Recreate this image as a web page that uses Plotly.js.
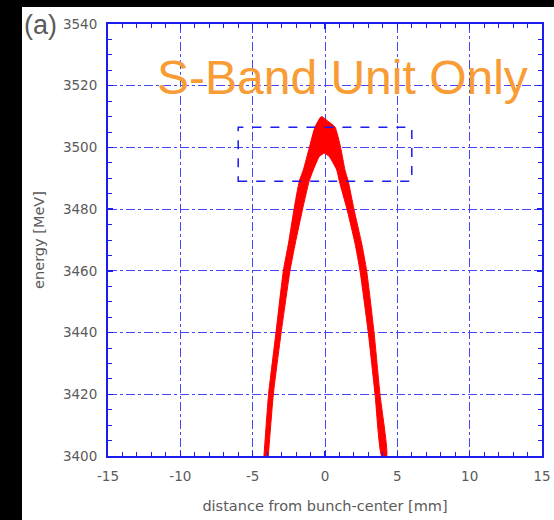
<!DOCTYPE html>
<html>
<head>
<meta charset="utf-8">
<script src="https://cdn.plot.ly/plotly-3.0.1.min.js"></script>
<style>
  html, body { margin: 0; padding: 0; background: #000; width: 554px; height: 520px; overflow: hidden; }
  #chart { position: absolute; left: 22px; top: 7px; width: 532px; height: 513px; background: #fff; }
</style>
</head>
<body>
<div id="chart"></div>
<script>
// Outer edge of the red longitudinal phase-space band (mm, MeV), left to right
const outerX = [-4.22, -3.90, -3.39, -2.88, -2.52, -2.14, -1.78, -1.50, -1.08, -0.69, -0.25, 0.20, 0.69, 1.08, 1.38, 1.61, 2.00, 2.53, 2.88, 3.39, 3.80, 4.26];
const outerE = [3400, 3420, 3440, 3460, 3469, 3480, 3489, 3492.7, 3500, 3506.6, 3510, 3508.5, 3506.6, 3500, 3492.7, 3489, 3480, 3469, 3460, 3440, 3420, 3400];
// Inner edge of the band, right to left
const innerX = [3.92, 3.46, 2.99, 2.42, 2.07, 1.52, 0.99, 0.81, 0.30, -0.05, -0.40, -0.81, -1.10, -1.55, -2.05, -2.42, -3.03, -3.57, -3.92];
const innerE = [3400, 3420, 3440, 3460, 3469, 3480, 3489, 3492.7, 3497, 3498.1, 3497, 3492.7, 3489, 3480, 3469, 3460, 3440, 3420, 3400];
// Dashed acceptance box
const boxX = [-6, 6];
const boxE = [3489, 3506.5];
// Axes
const xTicks = [-15, -10, -5, 0, 5, 10, 15];
const yTicks = [3400, 3420, 3440, 3460, 3480, 3500, 3520, 3540];
const panelLabel = "(a)";
const bandLabel = "S-Band Unit Only";

const bandX = outerX.concat(innerX);
const bandE = outerE.concat(innerE);

const blue = '#1c1cf0';
const gridBlue = '#4646ff';
const txt = '#5a5a5a';
const tickFont = {family: 'DejaVu Sans, sans-serif', size: 13.5, color: txt};

const trace = {
  x: bandX, y: bandE,
  type: 'scatter', mode: 'lines',
  fill: 'toself', fillcolor: '#ff0000',
  line: {color: '#ff0000', width: 1, shape: 'spline', smoothing: 0.5},
  hoverinfo: 'skip', showlegend: false
};

const axisCommon = {
  showline: true, linecolor: blue, linewidth: 2, mirror: 'ticks',
  ticks: 'inside', ticklen: 5, tickcolor: blue, tickwidth: 1.5,
  showgrid: true, gridcolor: gridBlue, gridwidth: 1, griddash: 'dashdot',
  zeroline: false, tickfont: tickFont
};

const layout = {
  width: 532, height: 513,
  margin: {l: 86, r: 12, t: 17, b: 64},
  paper_bgcolor: '#fff', plot_bgcolor: '#fff',
  showlegend: false,
  xaxis: Object.assign({}, axisCommon, {
    range: [-15, 15], tickvals: xTicks, ticktext: xTicks.map(String),
    ticklabelstandoff: 7,
    minor: {dtick: 1, tick0: 0, ticks: 'inside', ticklen: 4, tickcolor: blue, tickwidth: 1, showgrid: false},
    title: {text: 'distance from bunch-center [mm]', font: {family: 'DejaVu Sans, sans-serif', size: 14.5, color: txt}, standoff: 18}
  }),
  yaxis: Object.assign({}, axisCommon, {
    range: [3400, 3540], tickvals: yTicks, ticktext: yTicks.map(String),
    minor: {dtick: 5, tick0: 3400, ticks: 'inside', ticklen: 4, tickcolor: blue, tickwidth: 1, showgrid: false},
    ticklabelstandoff: 6,
    title: {text: 'energy [MeV]', font: {family: 'DejaVu Sans, sans-serif', size: 14.5, color: txt}, standoff: 15}
  }),
  shapes: [{
    type: 'rect', xref: 'x', yref: 'y',
    x0: boxX[0], x1: boxX[1], y0: boxE[0], y1: boxE[1],
    line: {color: blue, width: 1.5, dash: 'dash'}, fillcolor: 'rgba(0,0,0,0)', layer: 'above'
  }],
  annotations: [
    {text: panelLabel, xref: 'paper', yref: 'paper', x: -0.198, y: 1.038, xanchor: 'left', yanchor: 'top',
     showarrow: false, font: {family: 'Liberation Sans, Arial, sans-serif', size: 27, color: txt}},
    {text: bandLabel, xref: 'x', yref: 'y', x: 1.2, y: 3522.6, xanchor: 'center', yanchor: 'middle',
     showarrow: false, font: {family: 'Liberation Sans, Arial, sans-serif', size: 48, color: '#f89c35'}}
  ]
};

Plotly.newPlot('chart', [trace], layout, {displayModeBar: false, staticPlot: true});
</script>
</body>
</html>
